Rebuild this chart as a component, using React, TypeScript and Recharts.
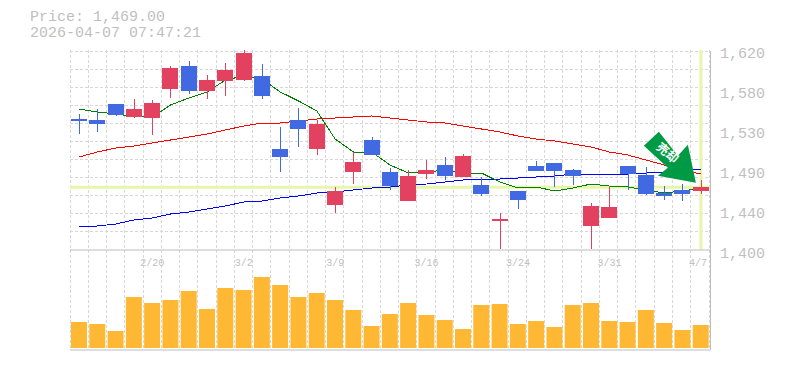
import { ComposedChart, Bar, Line, XAxis, YAxis, CartesianGrid, ReferenceLine, ReferenceDot } from 'recharts';

const dates = [
  '2/13', '2/16', '2/17', '2/18', '2/20', '2/24', '2/25', '2/26', '2/27', '3/2',
  '3/3', '3/4', '3/5', '3/6', '3/9', '3/10', '3/11', '3/12', '3/13', '3/16',
  '3/17', '3/18', '3/19', '3/23', '3/24', '3/25', '3/26', '3/27', '3/30', '3/31',
  '4/1', '4/2', '4/3', '4/6', '4/7',
];
const highs = [
  1549.6, 1555.1, 1560.6, 1566.1, 1565, 1602.4, 1607.9, 1592.5, 1605.7, 1620,
  1604.6, 1535.3, 1556.2, 1543, 1469.3, 1507.8, 1524.3, 1490.2, 1488, 1499,
  1502.3, 1505.6, 1480.3, 1440.7, 1464.9, 1497.9, 1495.7, 1489.1, 1451.7, 1470.4,
  1492.4, 1491.3, 1470.4, 1472.6, 1477,
];
const lows = [
  1527.6, 1529.8, 1547.4, 1545.2, 1526.5, 1567.2, 1571.6, 1566.1, 1569.4, 1585.9,
  1566.1, 1485.8, 1513.3, 1504.5, 1440.7, 1472.6, 1504.5, 1466, 1453.9, 1478.1,
  1477, 1480.3, 1459.4, 1401.1, 1445.1, 1486.9, 1469.3, 1471.5, 1401.1, 1435.2,
  1466, 1460.5, 1455, 1453.9, 1461.6,
];
const opens = [
  1544.1, 1543, 1560.6, 1546.3, 1545.2, 1577.1, 1602.4, 1574.9, 1585.9, 1587,
  1591.4, 1511.1, 1543, 1511.1, 1449.5, 1485.8, 1521, 1485.8, 1453.9, 1483.6,
  1493.5, 1480.3, 1471.5, 1431.9, 1464.9, 1492.4, 1495.7, 1488, 1426.4, 1435.2,
  1492.4, 1482.5, 1462.7, 1466, 1465,
];
const closes = [
  1541.9, 1538.6, 1548.5, 1555.1, 1561.7, 1600.2, 1574.9, 1587, 1598, 1616.7,
  1569.4, 1502.3, 1533.1, 1538.6, 1464.9, 1496.8, 1504.5, 1470.4, 1481.4, 1488,
  1481.4, 1503.4, 1461.6, 1434.1, 1455, 1486.9, 1486.9, 1481.4, 1448.4, 1447.3,
  1483.6, 1461.6, 1459.4, 1461.6, 1469,
];
const ma5 = [
  1555.1, 1551.8, 1549.6, 1546.9, 1546.3, 1559.5, 1567.2, 1573.8, 1587, 1591.4,
  1588.1, 1573.8, 1563.9, 1552.9, 1522.1, 1507.8, 1507.8, 1493.5, 1484.7, 1485.8,
  1488, 1484.7, 1484.7, 1474.8, 1468.2, 1469.3, 1464.9, 1468.2, 1472.6, 1470.4,
  1469.3, 1466, 1462.7, 1464.9, 1468.2,
];
const ma25 = [
  1502.3, 1507.8, 1512.2, 1514.4, 1517.7, 1521, 1524.3, 1527.6, 1532, 1536.4,
  1539.7, 1539.7, 1541.9, 1544.1, 1545.2, 1546.3, 1547.4, 1545.2, 1543, 1540.8,
  1539.7, 1536.4, 1533.1, 1529.8, 1525.4, 1522.1, 1519.9, 1516.6, 1513.3, 1507.8,
  1504.5, 1499, 1493.5, 1488, 1483.6,
];
const ma75 = [
  1425.3, 1426.4, 1428.6, 1433, 1435.2, 1439.6, 1441.8, 1445.1, 1448.4, 1452.8,
  1453.9, 1457.2, 1459.4, 1462.7, 1463.8, 1466, 1468.2, 1469.3, 1471.5, 1472.6,
  1474.8, 1477, 1478.1, 1478.1, 1479.2, 1480.3, 1481.4, 1483.6, 1483.6, 1483.6,
  1483.6, 1484.7, 1485.8, 1486.9, 1489.1,
];
const volumes = [
  26, 24, 17, 51, 45, 48, 57, 39, 60, 58,
  71, 63, 51, 55, 48, 38, 22, 34, 45, 33,
  28, 19, 43, 44, 24, 27, 21, 43, 45, 27,
  26, 38, 25, 18, 23,
];
const priceTicks = [1400, 1444, 1488, 1532, 1576, 1620];
const dateTicks = ['2/20', '3/2', '3/9', '3/16', '3/24', '3/31', '4/7'];
const lastPrice = 1469;

const rows = dates.map((date, i) => ({
  date,
  range: [lows[i], highs[i]],
  open: opens[i],
  close: closes[i],
  high: highs[i],
  low: lows[i],
  ma5: ma5[i],
  ma25: ma25[i],
  ma75: ma75[i],
  volume: volumes[i],
}));

const UP = '#e2425f';
const DOWN = '#4169e1';
const GRID = '#d8d8d8';
const AXIS = '#bdbdbd';
const MARK = '#e6f7a8';
const LABEL = '#bfbfbf';
const mono = '"Liberation Mono", "DejaVu Sans Mono", monospace';
const priceMargin = { top: 50, right: 0, bottom: 20, left: 70 };

function Candle(props: any) {
  const { x, y, width, height, payload } = props;
  const { open, close, high, low } = payload;
  const pxPerUnit = height / (high - low);
  const top = y + (high - Math.max(open, close)) * pxPerUnit;
  const bottom = y + (high - Math.min(open, close)) * pxPerUnit;
  const color = close >= open ? UP : DOWN;
  const cx = Math.round(x + width / 2);
  return (
    <g shapeRendering="crispEdges">
      <rect x={cx} y={y} width={1} height={height} fill={color} />
      <rect x={cx - 8} y={top} width={16} height={Math.max(bottom - top, 2)} fill={color} />
    </g>
  );
}

function SignalArrow(props: any) {
  const { cx, cy } = props;
  const tipX = cx - 5;
  const pts = [[-37, -51], [-18, -27], [-8, -38], [0, 0], [-38, -7], [-28, -15], [-52, -37]];
  return (
    <g>
      <polygon points={pts.map(p => `${tipX + p[0]},${cy + p[1]}`).join(' ')} fill="#009944" />
      <text
        x={tipX - 29}
        y={cy - 29}
        transform={`rotate(40 ${tipX - 29} ${cy - 29})`}
        textAnchor="middle"
        dominantBaseline="middle"
        fontSize={12}
        fontWeight={700}
        fill="#fff"
        fontFamily='"Noto Sans CJK JP"'
      >
        売却
      </text>
    </g>
  );
}

function PriceTick(props: any) {
  const { x, y, payload } = props;
  const rounded = Math.round(payload.value / 10) * 10;
  return (
    <text x={x} y={y + 8} fontSize={15} fill={LABEL} fontFamily={mono}>
      {rounded.toLocaleString('en-US')}
    </text>
  );
}

function DateTick(props: any) {
  const { x, y, payload } = props;
  return (
    <text x={Math.min(x, 698)} y={y + 8} textAnchor="middle" fontSize={10} fill={LABEL} fontFamily={mono}>
      {payload.value}
    </text>
  );
}

const bandLines = ({ offset }: any) =>
  Array.from({ length: dates.length + 1 }, (_, i) =>
    Math.floor(offset.left + (i * (offset.width - 1)) / dates.length) + 0.5);

const priceLines = ({ offset }: any) =>
  Array.from({ length: 11 }, (_, i) => offset.top + 1.5 + i * 18);

export default function App() {
  return (
    <div style={{ position: 'relative', width: 785, height: 370, margin: -8, background: '#fff' }}>
      <div style={{ position: 'absolute', left: 0, top: 250 }}>
        <ComposedChart width={785} height={101} data={rows} margin={{ top: 0, right: 75, bottom: 1, left: 70 }} barCategoryGap={0}>
          <CartesianGrid stroke={GRID} strokeDasharray="3 2" horizontal={false} verticalCoordinatesGenerator={bandLines} />
          <XAxis
            dataKey="date"
            orientation="top"
            mirror
            ticks={dateTicks}
            interval={0}
            axisLine={false}
            tickLine={false}
            tick={<DateTick />}
            height={1}
          />
          <YAxis domain={[-2, 98]} hide />
          <Bar dataKey="volume" fill="#ffb833" barSize={16} isAnimationActive={false} />
          <ReferenceLine y={-2} stroke={AXIS} strokeWidth={1} />
        </ComposedChart>
      </div>
      <div style={{ position: 'absolute', left: 0, top: 0 }}>
        <ComposedChart width={785} height={270} data={rows} margin={priceMargin} barCategoryGap={0}>
          <CartesianGrid
            stroke={GRID}
            strokeDasharray="3 2"
            verticalCoordinatesGenerator={bandLines}
            horizontalCoordinatesGenerator={priceLines}
          />
          <XAxis dataKey="date" scale="band" hide />
          <YAxis
            orientation="right"
            domain={[1400, 1620]}
            ticks={priceTicks}
            width={75}
            interval={0}
            allowDataOverflow
            axisLine={false}
            tickLine={false}
            tick={<PriceTick />}
            tickMargin={4}
          />
          <ReferenceLine y={lastPrice} stroke={MARK} strokeWidth={3} />
          <ReferenceLine x="4/7" stroke={MARK} strokeWidth={3} />
          <ReferenceLine y={1400} stroke={AXIS} strokeWidth={1} />
          <Line dataKey="ma25" stroke="#ff0000" strokeWidth={1} shapeRendering="crispEdges" dot={false} isAnimationActive={false} />
          <Line dataKey="ma75" stroke="#0000ff" strokeWidth={1} shapeRendering="crispEdges" dot={false} isAnimationActive={false} />
          <Line dataKey="ma5" stroke="#008000" strokeWidth={1} shapeRendering="crispEdges" dot={false} isAnimationActive={false} />
        </ComposedChart>
      </div>
      {/* candles sit in their own layer so they cover the moving averages */}
      <div style={{ position: 'absolute', left: 0, top: 0 }}>
        <ComposedChart width={785} height={270} data={rows} margin={priceMargin} barCategoryGap={0}>
          <XAxis dataKey="date" hide />
          <YAxis orientation="right" domain={[1400, 1620]} width={75} allowDataOverflow axisLine={false} tickLine={false} tick={false} />
          <Bar dataKey="range" shape={<Candle />} isAnimationActive={false} />
          <ReferenceDot x="4/7" y={1474} shape={<SignalArrow />} />
        </ComposedChart>
      </div>
      <div style={{ position: 'absolute', left: 710, top: 51, width: 1, height: 299, background: AXIS }} />
      <div style={{ position: 'absolute', left: 30, top: 10, fontFamily: mono, fontSize: 15, lineHeight: '16px', color: LABEL, whiteSpace: 'pre' }}>
        <div>Price: 1,469.00</div>
        <div>2026-04-07 07:47:21</div>
      </div>
    </div>
  );
}
